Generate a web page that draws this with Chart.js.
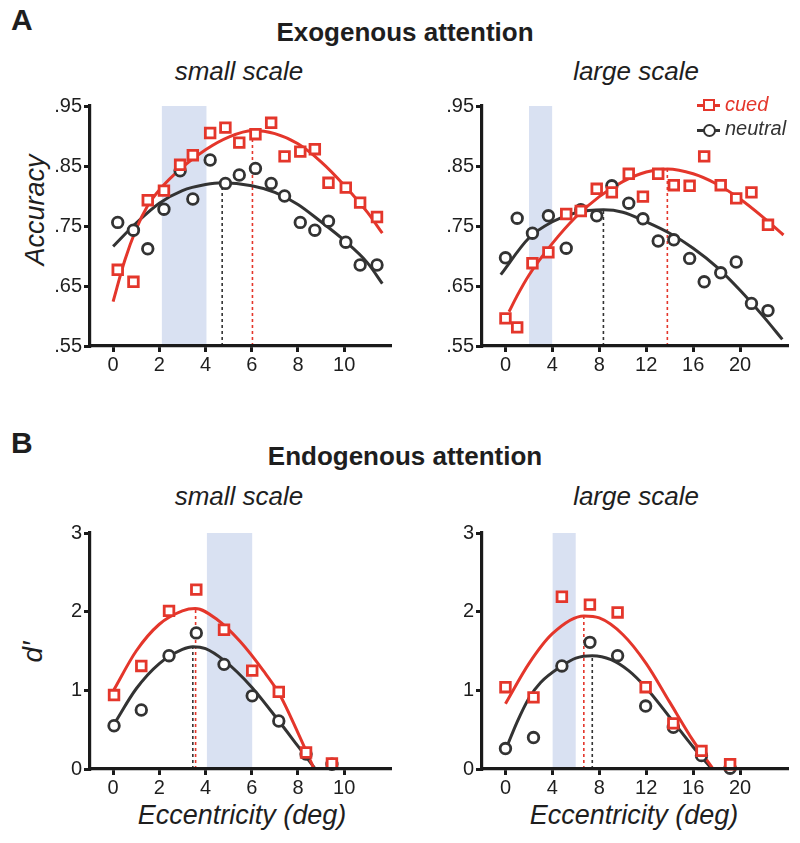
<!DOCTYPE html>
<html><head><meta charset="utf-8">
<script src="https://cdn.jsdelivr.net/npm/chart.js@4.4.1/dist/chart.umd.min.js"></script>
<style>
html,body{margin:0;padding:0;background:#fff;}
#wrap{position:relative;width:800px;height:843px;overflow:hidden;font-family:'Liberation Sans',Arial,Helvetica,sans-serif;color:#1e1e1e;}
.t{position:absolute;white-space:nowrap;line-height:1;}
.c{transform:translateX(-50%);}
.bold{font-weight:bold;}
.it{font-style:italic;}
.rot{transform:translate(-50%,-50%) rotate(-90deg);}
canvas{position:absolute;}
.sw{position:absolute;box-sizing:border-box;}
</style></head>
<body><div id="wrap">
<div class="t bold" style="left:11px;top:5px;font-size:30px">A</div>
<div class="t bold c" style="left:405px;top:19px;font-size:26px">Exogenous attention</div>
<div class="t it c" style="left:239px;top:58px;font-size:26px">small scale</div>
<div class="t it c" style="left:636px;top:58px;font-size:26px">large scale</div>
<div class="t it rot" style="left:35px;top:210px;font-size:27px">Accuracy</div>

<div class="t bold" style="left:11px;top:428px;font-size:30px">B</div>
<div class="t bold c" style="left:405px;top:443px;font-size:26px">Endogenous attention</div>
<div class="t it c" style="left:239px;top:483px;font-size:26px">small scale</div>
<div class="t it c" style="left:636px;top:483px;font-size:26px">large scale</div>
<div class="t it rot" style="left:33px;top:652px;font-size:28px">d′</div>
<div class="t it c" style="left:242px;top:802px;font-size:27px">Eccentricity (deg)</div>
<div class="t it c" style="left:634px;top:802px;font-size:27px">Eccentricity (deg)</div>

<canvas id="cA1" width="400" height="290" style="left:0;top:90px"></canvas>
<canvas id="cA2" width="400" height="290" style="left:400px;top:90px"></canvas>
<canvas id="cB1" width="400" height="290" style="left:0;top:515px"></canvas>
<canvas id="cB2" width="400" height="290" style="left:400px;top:515px"></canvas>

<!-- legend -->
<div class="sw" style="left:697px;top:103.5px;width:23px;height:3px;background:#e4362b"></div>
<div class="sw" style="left:703px;top:99px;width:12px;height:12px;border:2.8px solid #e4362b;background:#fff"></div>
<div class="t it" style="left:725px;top:94px;font-size:20px;color:#e4362b">cued</div>
<div class="sw" style="left:697px;top:128.5px;width:23px;height:3px;background:#333"></div>
<div class="sw" style="left:702.5px;top:123.5px;width:13px;height:13px;border:2.8px solid #333;border-radius:50%;background:#fff"></div>
<div class="t it" style="left:725px;top:118px;font-size:20px;color:#333">neutral</div>
</div>
<script>
const FONT = "'Liberation Sans', Arial, Helvetica, sans-serif";
const RED = '#e4362b';
const DARK = '#333333';
const BAND = '#d9e1f2';

// ---------- tick labels ----------
const smallXTicks = [0, 2, 4, 6, 8, 10];
const largeXTicks = [0, 4, 8, 12, 16, 20];
const accTicks = [0.55, 0.65, 0.75, 0.85, 0.95];
const accTickLabels = ['.55', '.65', '.75', '.85', '.95'];
const dTicks = [0, 1, 2, 3];
const dTickLabels = ['0', '1', '2', '3'];

// ---------- A: exogenous, small scale ----------
const exoSmallEcc = [0.2, 0.88, 1.5, 2.2, 2.9, 3.45, 4.2, 4.86, 5.46, 6.16, 6.84, 7.42, 8.1, 8.73, 9.32, 10.07, 10.69, 11.42];
const exoSmallCued = [0.677, 0.657, 0.793, 0.809, 0.852, 0.868, 0.905, 0.914, 0.889, 0.903, 0.922, 0.866, 0.874, 0.878, 0.822, 0.814, 0.789, 0.765];
const exoSmallNeutral = [0.756, 0.743, 0.712, 0.778, 0.842, 0.795, 0.860, 0.821, 0.835, 0.846, 0.821, 0.800, 0.756, 0.743, 0.758, 0.723, 0.685, 0.685];
const exoSmallCuedFitX = [0, 0.5, 1, 1.5, 2, 3, 4, 5, 6.03, 7, 8, 9, 10, 11, 11.65];
const exoSmallCuedFitY = [0.624, 0.692, 0.745, 0.784, 0.810, 0.848, 0.877, 0.898, 0.909, 0.904, 0.887, 0.857, 0.818, 0.773, 0.738];
const exoSmallNeutralFitX = [0, 1, 2, 3, 4, 4.72, 6, 7, 8, 9, 10, 11, 11.65];
const exoSmallNeutralFitY = [0.716, 0.755, 0.788, 0.809, 0.819, 0.822, 0.817, 0.806, 0.786, 0.757, 0.726, 0.689, 0.654];
const exoSmallPeakX = [4.72, 6.03];
const exoSmallPeakY = [0.822, 0.909];
const exoSmallBand = [2.1, 4.05];

// ---------- A: exogenous, large scale ----------
const exoLargeEcc = [0, 1.0, 2.3, 3.66, 5.18, 6.42, 7.78, 9.07, 10.51, 11.72, 13.02, 14.35, 15.7, 16.94, 18.35, 19.67, 20.97, 22.38];
const exoLargeCued = [0.596, 0.581, 0.688, 0.706, 0.770, 0.775, 0.812, 0.806, 0.837, 0.799, 0.837, 0.818, 0.817, 0.866, 0.818, 0.796, 0.806, 0.752];
const exoLargeNeutral = [0.697, 0.763, 0.738, 0.767, 0.713, 0.777, 0.767, 0.817, 0.788, 0.762, 0.725, 0.727, 0.696, 0.657, 0.672, 0.690, 0.621, 0.609];
const exoLargeCuedFitX = [0.3, 1, 2, 4, 6, 8, 10, 12, 13.8, 16, 18, 20, 22, 23.7];
const exoLargeCuedFitY = [0.607, 0.634, 0.668, 0.721, 0.765, 0.799, 0.824, 0.840, 0.845, 0.837, 0.820, 0.795, 0.764, 0.735];
const exoLargeNeutralFitX = [-0.4, 2, 4, 6, 8.35, 10, 12, 14, 16, 18, 20, 22, 23.6];
const exoLargeNeutralFitY = [0.669, 0.730, 0.757, 0.772, 0.777, 0.773, 0.757, 0.738, 0.713, 0.682, 0.643, 0.599, 0.561];
const exoLargePeakX = [8.35, 13.8];
const exoLargePeakY = [0.777, 0.845];
const exoLargeBand = [2, 4];

// ---------- B: endogenous, small scale ----------
const endoSmallEcc = [0.04, 1.22, 2.42, 3.6, 4.8, 6.02, 7.17, 8.35, 9.47];
const endoSmallCued = [0.94, 1.31, 2.01, 2.28, 1.77, 1.25, 0.98, 0.21, 0.07];
const endoSmallNeutral = [0.55, 0.75, 1.44, 1.73, 1.33, 0.93, 0.61, 0.19, 0.06];
const endoSmallCuedFitX = [0.04, 1, 2, 3, 3.55, 4.5, 5.5, 6.5, 7.2, 8, 8.7];
const endoSmallCuedFitY = [1.01, 1.50, 1.84, 2.01, 2.04, 1.90, 1.62, 1.25, 0.95, 0.46, 0];
const endoSmallNeutralFitX = [0.04, 1, 2, 3, 3.45, 4, 4.8, 6, 7.17, 8, 8.75];
const endoSmallNeutralFitY = [0.57, 1.02, 1.34, 1.52, 1.555, 1.53, 1.38, 1.04, 0.61, 0.29, 0];
const endoSmallPeakX = [3.45, 3.57];
const endoSmallPeakY = [1.555, 2.04];
const endoSmallBand = [4.05, 6.03];

// ---------- B: endogenous, large scale ----------
const endoLargeEcc = [0, 2.39, 4.81, 7.2, 9.56, 11.95, 14.31, 16.71, 19.15];
const endoLargeCued = [1.04, 0.91, 2.19, 2.09, 1.99, 1.04, 0.58, 0.23, 0.06];
const endoLargeNeutral = [0.26, 0.40, 1.31, 1.61, 1.44, 0.80, 0.53, 0.17, 0.01];
const endoLargeCuedFitX = [0, 2, 4, 6.68, 8, 10, 12, 14, 16, 17.7];
const endoLargeCuedFitY = [0.83, 1.34, 1.72, 1.945, 1.92, 1.71, 1.34, 0.85, 0.36, 0];
const endoLargeNeutralFitX = [0, 1, 2, 3, 4.8, 6, 7.4, 9, 10.5, 12, 14, 16, 17.6];
const endoLargeNeutralFitY = [0.24, 0.60, 0.90, 1.10, 1.31, 1.41, 1.44, 1.39, 1.25, 1.03, 0.66, 0.28, 0];
const endoLargePeakX = [7.4, 6.68];
const endoLargePeakY = [1.44, 1.945];
const endoLargeBand = [4, 6];

Chart.defaults.font.family = FONT;

function pts(xs, ys) { return xs.map((x, i) => ({ x: x, y: ys[i] })); }

function panel(id, p) {
  const ds = [
    { data: [{ x: p.band[0], y: p.yMax }, { x: p.band[1], y: p.yMax }], fill: 'start', backgroundColor: BAND,
      borderColor: 'rgba(0,0,0,0)', borderWidth: 0, pointRadius: 0, order: 10 },
    { data: [{ x: p.peakX[0], y: p.yMin }, { x: p.peakX[0], y: p.peakY[0] }], borderColor: DARK, borderWidth: 1.6,
      borderDash: [3, 3], pointRadius: 0, fill: false, order: 9 },
    { data: [{ x: p.peakX[1], y: p.yMin }, { x: p.peakX[1], y: p.peakY[1] }], borderColor: RED, borderWidth: 1.6,
      borderDash: [3, 3], pointRadius: 0, fill: false, order: 8 },
    { data: pts(p.nFitX, p.nFitY), borderColor: DARK, borderWidth: 3, pointRadius: 0, fill: false,
      cubicInterpolationMode: 'monotone', order: 6 },
    { data: pts(p.cFitX, p.cFitY), borderColor: RED, borderWidth: 3, pointRadius: 0, fill: false,
      cubicInterpolationMode: 'monotone', order: 5 },
    { data: pts(p.ecc, p.neutral), showLine: false, pointStyle: 'circle', pointRadius: 5.3, pointBorderWidth: 2.8,
      pointBorderColor: DARK, pointBackgroundColor: '#fff', clip: false, order: 2 },
    { data: pts(p.ecc, p.cued), showLine: false, pointStyle: 'rect', pointRadius: 6.8, pointBorderWidth: 2.8,
      pointBorderColor: RED, pointBackgroundColor: '#fff', clip: false, order: 1 }
  ];
  const axisCommon = {
    type: 'linear',
    grid: { drawOnChartArea: false, drawTicks: true, tickLength: 6, tickWidth: 3, tickColor: '#1a1a1a', lineWidth: 3 },
    border: { display: true, width: 3.2, color: '#1a1a1a', z: 1 },
  };
  new Chart(document.getElementById(id), {
    type: 'line',
    data: { datasets: ds },
    options: {
      responsive: false, animation: false, events: [],
      layout: { padding: { top: p.padTop, right: p.padRight, left: 0, bottom: 0 } },
      plugins: { legend: { display: false }, tooltip: { enabled: false } },
      scales: {
        x: Object.assign({}, axisCommon, {
          min: p.xMin, max: p.xMax,
          afterBuildTicks: s => { s.ticks = p.xTicks.map(v => ({ value: v })); },
          afterFit: s => { s.height = p.xH; },
          ticks: { font: { size: 20 }, color: '#1e1e1e', padding: 1, maxRotation: 0, autoSkip: false,
                   callback: (v, i) => String(p.xTicks[i]) }
        }),
        y: Object.assign({}, axisCommon, {
          min: p.yMin, max: p.yMax,
          afterBuildTicks: s => { s.ticks = p.yTicks.map(v => ({ value: v })); },
          afterFit: s => { s.width = p.yW; },
          ticks: { font: { size: 20 }, color: '#1e1e1e', padding: 2, autoSkip: false,
                   callback: (v, i) => p.yLabels[i] }
        })
      }
    }
  });
}

panel('cA1', { xMin: -1, xMax: 12, xTicks: smallXTicks, yMin: 0.55, yMax: 0.95, yTicks: accTicks, yLabels: accTickLabels,
  padTop: 16, padRight: 8, xH: 34, yW: 90, band: exoSmallBand, peakX: exoSmallPeakX, peakY: exoSmallPeakY,
  ecc: exoSmallEcc, cued: exoSmallCued, neutral: exoSmallNeutral,
  cFitX: exoSmallCuedFitX, cFitY: exoSmallCuedFitY, nFitX: exoSmallNeutralFitX, nFitY: exoSmallNeutralFitY });

panel('cA2', { xMin: -2, xMax: 24, xTicks: largeXTicks, yMin: 0.55, yMax: 0.95, yTicks: accTicks, yLabels: accTickLabels,
  padTop: 16, padRight: 13, xH: 34, yW: 82, band: exoLargeBand, peakX: exoLargePeakX, peakY: exoLargePeakY,
  ecc: exoLargeEcc, cued: exoLargeCued, neutral: exoLargeNeutral,
  cFitX: exoLargeCuedFitX, cFitY: exoLargeCuedFitY, nFitX: exoLargeNeutralFitX, nFitY: exoLargeNeutralFitY });

panel('cB1', { xMin: -1, xMax: 12, xTicks: smallXTicks, yMin: 0, yMax: 3, yTicks: dTicks, yLabels: dTickLabels,
  padTop: 18, padRight: 8, xH: 36, yW: 90, band: endoSmallBand, peakX: endoSmallPeakX, peakY: endoSmallPeakY,
  ecc: endoSmallEcc, cued: endoSmallCued, neutral: endoSmallNeutral,
  cFitX: endoSmallCuedFitX, cFitY: endoSmallCuedFitY, nFitX: endoSmallNeutralFitX, nFitY: endoSmallNeutralFitY });

panel('cB2', { xMin: -2, xMax: 24, xTicks: largeXTicks, yMin: 0, yMax: 3, yTicks: dTicks, yLabels: dTickLabels,
  padTop: 18, padRight: 13, xH: 36, yW: 82, band: endoLargeBand, peakX: endoLargePeakX, peakY: endoLargePeakY,
  ecc: endoLargeEcc, cued: endoLargeCued, neutral: endoLargeNeutral,
  cFitX: endoLargeCuedFitX, cFitY: endoLargeCuedFitY, nFitX: endoLargeNeutralFitX, nFitY: endoLargeNeutralFitY });
</script>
</body></html>
